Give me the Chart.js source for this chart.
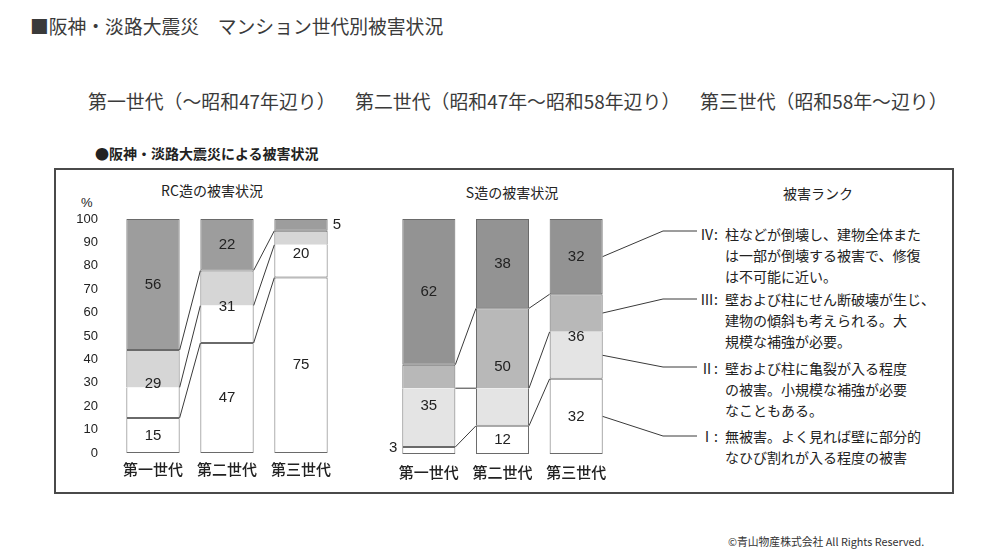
<!DOCTYPE html>
<html lang="ja">
<head>
<meta charset="utf-8">
<title>阪神・淡路大震災 マンション世代別被害状況</title>
<script src="https://cdn.jsdelivr.net/npm/chart.js@4.4.1/dist/chart.umd.min.js"></script>
<style>
  html, body { margin: 0; padding: 0; background: #fff; }
  body { width: 1004px; height: 555px; position: relative; overflow: hidden;
         font-family: "Noto Sans CJK JP", sans-serif; color: #333; }
  .abs { position: absolute; white-space: nowrap; }
  .head { left: 30px; top: 13px; font-size: 18.8px; line-height: 26px; color: #3a3a3a; }
  .gen { top: 88px; font-size: 18.9px; line-height: 26px; color: #3a3a3a; }
  .sub { left: 95px; top: 143px; font-size: 14px; line-height: 20px; font-weight: 700; color: #222; }
  .frame { left: 54px; top: 168px; width: 896px; height: 322px; border: 2px solid #4a4a4a; }
  .ptitle { font-size: 14px; line-height: 20px; font-weight: 400; color: #222; transform: translateX(-50%); }
  .rank { left: 700px; font-size: 14px; line-height: 21px; color: #222; }
  .rank span { display: inline-block; width: 25px; }
  .rank .cont { padding-left: 25px; }
  .copy { left: 728px; top: 533px; font-size: 10.8px; line-height: 16px; color: #333; }
  canvas { position: absolute; }
</style>
</head>
<body>
<div class="abs head">■阪神・淡路大震災　マンション世代別被害状況</div>
<div class="abs gen" style="left:88px">第一世代（〜昭和47年辺り）</div>
<div class="abs gen" style="left:355px">第二世代（昭和47年〜昭和58年辺り）</div>
<div class="abs gen" style="left:700px">第三世代（昭和58年〜辺り）</div>
<div class="abs sub">●阪神・淡路大震災による被害状況</div>
<div class="abs frame"></div>

<div class="abs ptitle" style="left:212px; top:180px">RC造の被害状況</div>
<div class="abs ptitle" style="left:512px; top:182px">S造の被害状況</div>
<div class="abs ptitle" style="left:818px; top:183px">被害ランク</div>
<div class="abs" style="left:81px; top:194px; font-size:13px; line-height:18px; font-family:'Liberation Sans',sans-serif; color:#222">%</div>

<div class="abs rank" style="top:224px"><span>Ⅳ:</span>柱などが倒壊し、建物全体また<div class="cont">は一部が倒壊する被害で、修復</div><div class="cont">は不可能に近い。</div></div>
<div class="abs rank" style="top:289px"><span>Ⅲ:</span>壁および柱にせん断破壊が生じ、<div class="cont">建物の傾斜も考えられる。大</div><div class="cont">規模な補強が必要。</div></div>
<div class="abs rank" style="top:358px"><span>Ⅱ:</span>壁および柱に亀裂が入る程度<div class="cont">の被害。小規模な補強が必要</div><div class="cont">なこともある。</div></div>
<div class="abs rank" style="top:426px"><span>Ⅰ:</span>無被害。よく見れば壁に部分的<div class="cont">なひび割れが入る程度の被害</div></div>

<div class="abs copy">©青山物産株式会社 All Rights Reserved.</div>

<canvas id="rcChart" style="left:40px; top:200px" width="310" height="290"></canvas>
<canvas id="sChart" style="left:380px; top:200px" width="320" height="290"></canvas>

<script>
// --- Data (percent of buildings per damage rank) ---
const generations = ["第一世代", "第二世代", "第三世代"];
const percentTicks = [0, 10, 20, 30, 40, 50, 60, 70, 80, 90, 100];

// RC造
const rcRank1 = [15, 47, 75];
const rcRank2 = [13, 16, 14];
const rcRank3 = [16, 15, 6];
const rcRank4 = [56, 22, 5];

// S造
const sRank1 = [3, 12, 32];
const sRank2 = [25, 16, 20];
const sRank3 = [10, 34, 16];
const sRank4 = [62, 38, 32];

const digitFont = "'Liberation Sans', Arial, sans-serif";
const cjkFont = "'Noto Sans CJK JP', sans-serif";
const borderColor = "#6a6a6a";

// connector lines between bars, value labels and leader lines to the rank legend
const rankPlugin = {
  id: "rankPlugin",
  afterDatasetsDraw(chart, args, opts) {
    const ctx = chart.ctx;
    const metas = [0, 1, 2, 3].map((i) => chart.getDatasetMeta(i));
    const n = metas[0].data.length;
    ctx.save();
    ctx.strokeStyle = "#3a3a3a";
    ctx.lineWidth = 1;

    // boundaries of rank I, II, III joined from bar to bar
    for (let k = 0; k < 3; k++) {
      for (let i = 0; i < n - 1; i++) {
        const a = metas[k].data[i];
        const b = metas[k].data[i + 1];
        ctx.beginPath();
        ctx.moveTo(a.x + a.width / 2, a.y);
        ctx.lineTo(b.x - b.width / 2, b.y);
        ctx.stroke();
      }
    }

    // leaders from the last bar to the legend text
    if (opts.leaders) {
      opts.leaders.forEach((ly, k) => {
        const bar = metas[k].data[n - 1];
        const midY = (bar.y + bar.base) / 2;
        ctx.beginPath();
        ctx.moveTo(bar.x + bar.width / 2, midY);
        ctx.lineTo(opts.elbowX, ly);
        ctx.lineTo(opts.endX, ly);
        ctx.stroke();
      });
    }

    // labels: rank I, ranks II+III together, rank IV
    const groups = [[0], [1, 2], [3]];
    ctx.fillStyle = "#222";
    ctx.font = "15px " + digitFont;
    ctx.textBaseline = "middle";
    for (let i = 0; i < n; i++) {
      groups.forEach((g) => {
        let value = 0;
        g.forEach((d) => (value += chart.data.datasets[d].data[i]));
        const bottomEl = metas[g[0]].data[i];
        const topEl = metas[g[g.length - 1]].data[i];
        const bottom = bottomEl.base;
        const top = topEl.y;
        let x = bottomEl.x;
        let y = (bottom + top) / 2;
        ctx.textAlign = "center";
        if (bottom - top < 14) {
          if (opts.outside === "right") {
            x = bottomEl.x + bottomEl.width / 2 + 5;
            ctx.textAlign = "left";
          } else {
            x = bottomEl.x - bottomEl.width / 2 - 5;
            ctx.textAlign = "right";
            y -= 3;
          }
        }
        ctx.fillText(String(value), x, y);
      });
    }
    ctx.restore();
  },
};

const makeDatasets = (ranks, colors) =>
  ranks.map((values, i) => ({
    label: ["Ⅰ", "Ⅱ", "Ⅲ", "Ⅳ"][i],
    data: values,
    backgroundColor: colors[i],
    borderColor: borderColor,
    borderWidth: 1,
    // II and III share one outlined box
    borderSkipped: i === 1 ? "top" : i === 2 ? "bottom" : false,
    categoryPercentage: 1,
    barPercentage: 0.72,
  }));

// --- RC造 ---
new Chart(document.getElementById("rcChart"), {
  type: "bar",
  data: {
    labels: generations,
    datasets: makeDatasets(
      [rcRank1, rcRank2, rcRank3, rcRank4],
      ["#ffffff", "#ffffff", "#d6d6d6", "#9d9d9d"]
    ),
  },
  options: {
    responsive: false,
    animation: false,
    layout: { padding: { top: 19, right: 12, left: 0, bottom: 0 } },
    plugins: {
      legend: { display: false },
      tooltip: { enabled: false },
      rankPlugin: { outside: "right" },
    },
    scales: {
      x: {
        stacked: true,
        grid: { display: false, drawTicks: false },
        border: { display: false },
        ticks: { padding: 7, color: "#222", font: { family: cjkFont, size: 15, weight: "500" } },
        afterFit: (s) => { s.height = 37; },
      },
      y: {
        stacked: true,
        min: 0,
        max: 100,
        grid: { display: false, drawTicks: false },
        border: { display: false },
        afterBuildTicks: (s) => { s.ticks = percentTicks.map((v) => ({ value: v })); },
        ticks: { padding: 18, color: "#222", font: { family: digitFont, size: 13 } },
        afterFit: (s) => {
          s.width = 76;
          s.paddingTop = 0;
          s.paddingBottom = 0;
        },
      },
    },
  },
  plugins: [rankPlugin],
});

// --- S造 ---
new Chart(document.getElementById("sChart"), {
  type: "bar",
  data: {
    labels: generations,
    datasets: makeDatasets(
      [sRank1, sRank2, sRank3, sRank4],
      ["#ffffff", "#e4e4e4", "#b8b8b8", "#939393"]
    ),
  },
  options: {
    responsive: false,
    animation: false,
    layout: { padding: { top: 19, right: 87, left: 12, bottom: 0 } },
    plugins: {
      legend: { display: false },
      tooltip: { enabled: false },
      rankPlugin: {
        outside: "left",
        leaders: [236, 167, 99, 31],
        elbowX: 283,
        endX: 317,
      },
    },
    scales: {
      x: {
        stacked: true,
        grid: { display: false, drawTicks: false },
        border: { display: false },
        ticks: { padding: 9, color: "#222", font: { family: cjkFont, size: 15, weight: "500" } },
        afterFit: (s) => { s.height = 36; },
      },
      y: {
        stacked: true,
        display: false,
        min: 0,
        max: 100,
      },
    },
  },
  plugins: [rankPlugin],
});
</script>
</body>
</html>
